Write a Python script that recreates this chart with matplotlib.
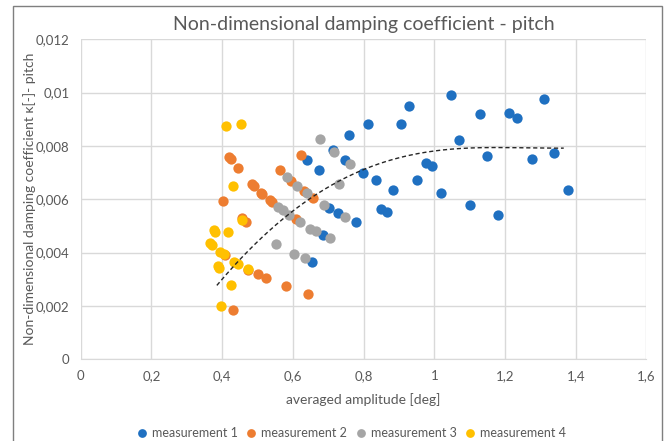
import numpy as np
import matplotlib
matplotlib.use('Agg')
import matplotlib.pyplot as plt
from matplotlib.ticker import FuncFormatter, MultipleLocator
from matplotlib.patches import Rectangle

plt.rcParams['font.family'] = ['Lato', 'DejaVu Sans']

# measurement 1 (blue)
m1_x = [0.640, 0.653, 0.675, 0.685, 0.703, 0.713, 0.727, 0.748, 0.760, 0.778,
        0.798, 0.813, 0.834, 0.850, 0.865, 0.883, 0.905, 0.927, 0.950, 0.977,
        0.993, 1.020, 1.048, 1.069, 1.101, 1.128, 1.149, 1.181, 1.211, 1.235,
        1.276, 1.311, 1.338, 1.378]
m1_y = [0.00748, 0.00366, 0.00710, 0.00466, 0.00567, 0.00785, 0.00548, 0.00748, 0.00842, 0.00513,
        0.00700, 0.00884, 0.00672, 0.00563, 0.00553, 0.00633, 0.00883, 0.00948, 0.00672, 0.00735,
        0.00723, 0.00625, 0.00992, 0.00823, 0.00579, 0.00920, 0.00764, 0.00540, 0.00924, 0.00904,
        0.00750, 0.00976, 0.00775, 0.00636]

# measurement 2 (orange)
m2_x = [0.402, 0.408, 0.420, 0.424, 0.432, 0.445, 0.455, 0.467, 0.474, 0.485,
        0.490, 0.500, 0.509, 0.513, 0.525, 0.536, 0.540, 0.565, 0.580, 0.596,
        0.608, 0.624, 0.632, 0.644, 0.657]
m2_y = [0.00595, 0.00391, 0.00758, 0.00750, 0.00184, 0.00718, 0.00529, 0.00513, 0.00335, 0.00657,
        0.00650, 0.00318, 0.00625, 0.00619, 0.00303, 0.00598, 0.00591, 0.00708, 0.00274, 0.00668,
        0.00525, 0.00766, 0.00630, 0.00246, 0.00605]

# measurement 3 (grey)
m3_x = [0.553, 0.559, 0.571, 0.583, 0.590, 0.603, 0.611, 0.620, 0.633, 0.640,
        0.649, 0.665, 0.677, 0.687, 0.705, 0.716, 0.730, 0.748, 0.762]
m3_y = [0.00433, 0.00570, 0.00560, 0.00684, 0.00541, 0.00396, 0.00650, 0.00514, 0.00378, 0.00622,
        0.00490, 0.00481, 0.00826, 0.00580, 0.00453, 0.00779, 0.00658, 0.00534, 0.00733]

# measurement 4 (yellow)
m4_x = [0.366, 0.371, 0.377, 0.381, 0.387, 0.391, 0.394, 0.397, 0.404, 0.410,
        0.416, 0.426, 0.430, 0.434, 0.446, 0.452, 0.456, 0.472]
m4_y = [0.00436, 0.00429, 0.00486, 0.00479, 0.00350, 0.00344, 0.00401, 0.00199, 0.00395, 0.00873,
        0.00478, 0.00279, 0.00648, 0.00366, 0.00356, 0.00883, 0.00523, 0.00338]

# trendline
trend_x = [0.385, 0.434, 0.564, 0.592, 0.658, 0.800, 0.876, 0.913, 1.000, 1.187, 1.366]
trend_y = [0.00275, 0.00354, 0.00523, 0.00541, 0.00610, 0.00713, 0.00745, 0.00764, 0.00779, 0.00794, 0.00792]

series = [
    ('measurement 1', m1_x, m1_y, '#1f70c1'),
    ('measurement 2', m2_x, m2_y, '#ed7d31'),
    ('measurement 3', m3_x, m3_y, '#a5a5a5'),
    ('measurement 4', m4_x, m4_y, '#ffc000'),
]

fig = plt.figure(figsize=(6.68, 4.41), dpi=100)
ax = fig.add_axes([0.1208, 0.1853, 0.8470, 0.7256])

txt = '#595959'
for label, xs, ys, col in series:
    ax.scatter(xs, ys, s=55, color=col, label=label, zorder=3, linewidths=0)

# smooth polynomial trendline
coef = np.polyfit(trend_x, trend_y, 4)
tx = np.linspace(min(trend_x), max(trend_x), 200)
ax.plot(tx, np.polyval(coef, tx), color='#262626', linestyle=(0, (3, 2)), linewidth=1.0, zorder=4)

ax.set_xlim(0, 1.6)
ax.set_ylim(0, 0.012)
ax.xaxis.set_major_locator(MultipleLocator(0.2))
ax.yaxis.set_major_locator(MultipleLocator(0.002))

def comma_fmt(v, pos):
    s = ('%.3f' % v).rstrip('0').rstrip('.') if abs(v) > 1e-12 else '0'
    return s.replace('.', ',')

def comma_fmt_x(v, pos):
    s = ('%.1f' % v).rstrip('0').rstrip('.') if abs(v) > 1e-12 else '0'
    return s.replace('.', ',')

ax.yaxis.set_major_formatter(FuncFormatter(comma_fmt))
ax.xaxis.set_major_formatter(FuncFormatter(comma_fmt_x))

ax.grid(True, color='#d9d9d9', linewidth=1.0, zorder=0)
ax.set_axisbelow(True)
for sp in ax.spines.values():
    sp.set_visible(False)
ax.spines['bottom'].set_visible(True)
ax.spines['bottom'].set_color('#d9d9d9')
ax.tick_params(length=0, colors=txt, labelsize=9.5, pad=8)

ax.set_title('Non-dimensional damping coefficient - pitch', color=txt, fontsize=14, pad=7)
ax.set_xlabel('averaged amplitude [deg]', color=txt, fontsize=10, labelpad=8)
ax.set_ylabel('Non-dimensional damping coefficient κ[-]- pitch', color=txt, fontsize=10, labelpad=0)

ax.legend(loc='upper center', bbox_to_anchor=(0.472, -0.195), ncol=4, frameon=False,
          fontsize=9, labelcolor=txt, handletextpad=-0.2, columnspacing=0.1,
          markerscale=0.85, borderaxespad=0)

fig.patches.append(Rectangle((0.0195, -0.01), 0.9716, 0.9964, transform=fig.transFigure,
                             fill=False, edgecolor='#7f7f7f', linewidth=1.0))

fig.savefig('out.png', dpi=100)
